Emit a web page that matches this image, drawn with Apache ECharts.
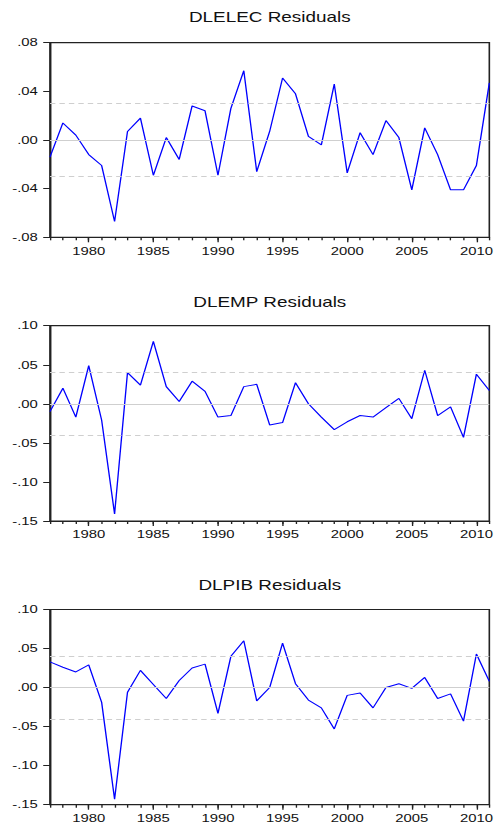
<!DOCTYPE html>
<html>
<head>
<meta charset="utf-8">
<script src="https://cdn.jsdelivr.net/npm/echarts@6/dist/echarts.min.js"></script>
<style>
html, body { margin: 0; padding: 0; background: #fff; overflow: hidden; }
#chart { position: absolute; left: 0; top: 0; width: 368px; height: 825px; transform: scaleX(1.3505); transform-origin: 0 0; }
</style>
</head>
<body>
<div id="chart"></div>
<script>
// ---- data ----
const years = [1977,1978,1979,1980,1981,1982,1983,1984,1985,1986,1987,1988,1989,1990,1991,1992,1993,1994,1995,1996,1997,1998,1999,2000,2001,2002,2003,2004,2005,2006,2007,2008,2009,2010,2011];

const titles = ['DLELEC Residuals', 'DLEMP Residuals', 'DLPIB Residuals'];

const dlelecResid = [-0.014, 0.014, 0.004, -0.012, -0.021, -0.067, 0.007, 0.018, -0.029, 0.002, -0.016, 0.028, 0.024, -0.029, 0.026, 0.057, -0.026, 0.007, 0.051, 0.038, 0.003, -0.004, 0.046, -0.027, 0.006, -0.012, 0.016, 0.002, -0.041, 0.010, -0.012, -0.041, -0.041, -0.021, 0.047];
const dlempResid = [-0.010, 0.020, -0.017, 0.049, -0.021, -0.141, 0.040, 0.024, 0.080, 0.022, 0.003, 0.029, 0.016, -0.017, -0.015, 0.022, 0.025, -0.027, -0.024, 0.027, 0.000, -0.017, -0.033, -0.023, -0.015, -0.017, -0.005, 0.007, -0.019, 0.043, -0.015, -0.004, -0.043, 0.038, 0.017];
const dlpibResid = [0.033, 0.026, 0.020, 0.029, -0.019, -0.143, -0.006, 0.022, 0.004, -0.014, 0.009, 0.025, 0.030, -0.033, 0.040, 0.060, -0.017, 0.000, 0.057, 0.005, -0.016, -0.026, -0.053, -0.010, -0.007, -0.026, 0.000, 0.005, -0.001, 0.013, -0.014, -0.008, -0.043, 0.043, 0.008];

// +/- one standard error bands (dashed lines)
const seBands = [0.031, 0.0386, 0.038];

// y axis ticks and labels
const elecTicks = [-0.08, -0.04, 0.00, 0.04, 0.08];
const elecTickLabels = ['-.08', '-.04', '.00', '.04', '.08'];
const wideTicks = [-0.15, -0.10, -0.05, 0.00, 0.05, 0.10];
const wideTickLabels = ['-.15', '-.10', '-.05', '.00', '.05', '.10'];

// ---- layout ----
const panels = [
  { data: dlelecResid, ticks: elecTicks, labels: elecTickLabels, interval: 0.04, top: 42.7, height: 194.6, titleTop: 10.5 },
  { data: dlempResid, ticks: wideTicks, labels: wideTickLabels, interval: 0.05, top: 325.7, height: 195.3, titleTop: 295 },
  { data: dlpibResid, ticks: wideTicks, labels: wideTickLabels, interval: 0.05, top: 609.5, height: 195.2, titleTop: 578 }
];

const FONT = '"Liberation Sans", Arial, sans-serif';
const gridLeft = 37.0;
const gridRight = 5.4;
const plotCenter = gridLeft + (368 - gridLeft - gridRight) / 2;

const option = {
  animation: false,
  backgroundColor: '#ffffff',
  title: panels.map((p, i) => ({
    text: titles[i],
    left: plotCenter,
    top: p.titleTop,
    textAlign: 'center',
    padding: 0,
    textStyle: { fontFamily: FONT, fontSize: 14, fontWeight: 'normal', color: '#111' }
  })),
  grid: panels.map(p => ({
    left: gridLeft, right: gridRight, top: p.top, height: p.height,
    show: true, borderColor: '#222', borderWidth: 1.2, backgroundColor: '#fff'
  })),
  xAxis: [],
  yAxis: [],
  series: []
};

panels.forEach((p, i) => {
  // main x axis with minor ticks and labels
  option.xAxis.push({
    type: 'category', gridIndex: i, data: years, boundaryGap: false, position: 'bottom',
    axisLine: { show: true, onZero: false, lineStyle: { color: '#222', width: 1.2 } },
    axisTick: { show: true, interval: 0, length: 3, lineStyle: { color: '#222' } },
    axisLabel: {
      interval: (idx, v) => Number(v) % 5 === 0,
      margin: 8, fontFamily: FONT, fontSize: 11, color: '#111'
    },
    splitLine: { show: false }
  });
  // overlay axis for longer 5-year ticks
  option.xAxis.push({
    type: 'category', gridIndex: i, data: years, boundaryGap: false, position: 'bottom',
    axisLine: { show: false, onZero: false },
    axisTick: { show: true, interval: (idx, v) => Number(v) % 5 === 0, length: 5, lineStyle: { color: '#222' } },
    axisLabel: { show: false },
    splitLine: { show: false }
  });
  option.yAxis.push({
    type: 'value', gridIndex: i,
    min: p.ticks[0], max: p.ticks[p.ticks.length - 1], interval: p.interval,
    axisLine: { show: true, onZero: false, lineStyle: { color: '#222', width: 1.2 } },
    axisTick: { show: true, length: 5, lineStyle: { color: '#222' } },
    axisLabel: {
      margin: 9, fontFamily: FONT, fontSize: 11, color: '#111',
      formatter: v => {
        let best = 0;
        p.ticks.forEach((t, k) => { if (Math.abs(t - v) < Math.abs(p.ticks[best] - v)) best = k; });
        return p.labels[best];
      }
    },
    splitLine: { show: false }
  });
  option.series.push({
    type: 'line', xAxisIndex: i * 2, yAxisIndex: i,
    data: p.data, showSymbol: false, symbol: 'none',
    lineStyle: { color: '#0000ff', width: 1 },
    z: 3,
    markLine: {
      silent: true, symbol: 'none', label: { show: false },
      data: [
        { yAxis: 0, lineStyle: { color: '#cfcfcf', width: 1, type: 'solid' } },
        { yAxis: seBands[i], lineStyle: { color: '#cfcfcf', width: 1, type: [4, 3] } },
        { yAxis: -seBands[i], lineStyle: { color: '#cfcfcf', width: 1, type: [4, 3] } }
      ]
    }
  });
});

const chart = echarts.init(document.getElementById('chart'), null, { renderer: 'svg', width: 368, height: 825 });
chart.setOption(option);
</script>
</body>
</html>
